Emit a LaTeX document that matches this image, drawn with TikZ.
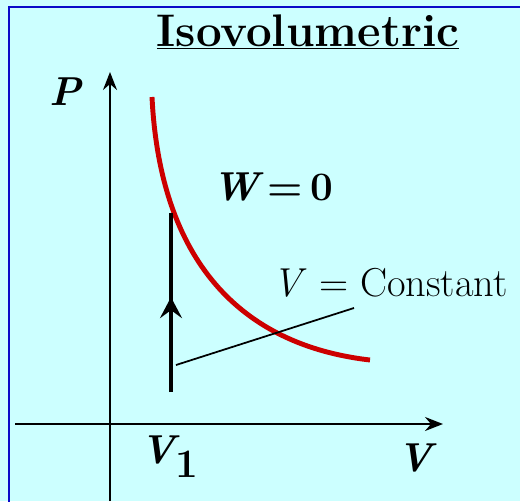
\documentclass[tikz,border=0pt]{standalone}
\usetikzlibrary{arrows.meta,decorations.markings}
\definecolor{bgcyan}{RGB}{204,255,255}
\definecolor{frameblue}{RGB}{10,10,200}
\definecolor{curvered}{RGB}{204,0,0}

\begin{document}
\begin{tikzpicture}[
  x=0.02cm, y=-0.02cm,
  axis/.style={line width=1.2pt, -{Stealth[length=0.36cm, width=0.28cm, inset=0.12cm]}},
  pvcurve/.style={curvered, line width=2.8pt},
  process/.style={line width=2.3pt, decoration={markings, mark=at position 0.53 with {\arrow{Stealth[length=0.42cm, width=0.44cm, inset=0.16cm]}}}, postaction={decorate}},
  pointer/.style={line width=1pt},
  title/.style={font=\fontsize{26}{31}\selectfont\bfseries, inner sep=0pt},
  axlabel/.style={font=\fontsize{23}{27}\selectfont\bfseries\itshape, inner sep=0pt},
  note/.style={font=\fontsize{23}{27}\selectfont, inner sep=0pt}
]
  \fill[bgcyan] (0,0) rectangle (520,501);
  \useasboundingbox (0,0) rectangle (520,501);
  \draw[frameblue, line width=1.7pt] (521,7) -- (9,7) -- (9,502);

  % axes
  \coordinate (yb) at (110,501);
  \coordinate (yt) at (110,72);
  \coordinate (xl) at (15,424);
  \coordinate (xr) at (443,424);
  \draw[axis] (yb) -- (yt);
  \draw[axis] (xl) -- (xr);

  % labels
  \node[title, anchor=base] (title) at (308,46) {\underline{Isovolumetric}};
  \node[axlabel] (plabel) at (65,92) {P};
  \node[axlabel, anchor=base west] (vlabel) at (397,471) {V};
  \node[axlabel, anchor=base west] (v1label) at (140,463) {V\raisebox{-0.35em}{\upshape 1}};
  \node[axlabel, anchor=base west] (work) at (212,200) {W\hspace{0.2em}{\upshape=\hspace{0.2em}0}};
  \node[note, anchor=base west] (const) at (272,296) {\textit{V} = Constant};

  % curve
  \draw[pvcurve] (152,97) .. controls (160,260) and (240,345) .. (370,360);

  % isovolumetric step
  \coordinate (v1bot) at (171,392);
  \coordinate (v1top) at (171,213);
  \draw[process] (v1bot) -- (v1top);

  % pointer to the constant-volume line
  \coordinate (ptrfoot) at (176,365);
  \coordinate (ptrhead) at (354,308);
  \draw[pointer] (ptrfoot) -- (ptrhead);
\end{tikzpicture}
\end{document}
